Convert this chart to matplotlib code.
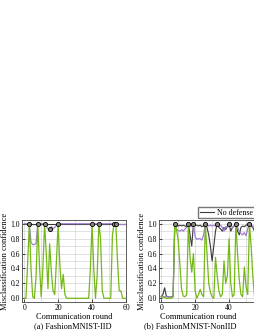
import numpy as np
import matplotlib
matplotlib.use("Agg")
import matplotlib.pyplot as plt
from matplotlib.ticker import MultipleLocator

plt.rcParams["font.family"] = ["Liberation Serif", "DejaVu Serif"]

rounds = list(range(61))

# (a) FashionMNIST-IID
iid_nodef = [1.0] * 61
iid_def = [1.0, 1.0, 1.0, 1.0, 0.75, 0.72, 0.72, 0.74, 1.0, 1.0,
           1.0, 1.0, 1.0, 0.97, 0.93, 0.93, 0.96, 0.93, 0.95, 0.98,
           1.0, 1.0, 1.0, 1.0, 1.0, 1.0, 1.0, 1.0, 1.0, 1.0,
           1.0, 1.0, 1.0, 1.0, 1.0, 1.0, 1.0, 1.0, 1.0, 1.0,
           1.0, 1.0, 1.0, 1.0, 1.0, 1.0, 1.0, 1.0, 1.0, 1.0,
           1.0, 1.0, 1.0, 1.0, 1.0, 1.0, 0.99, 0.99, 0.99, 0.99, 0.99]
iid_ours = [0.0, 0.0, 0.45, 1.0, 0.4, 0.02, 0.0, 0.3, 1.0, 0.45,
            0.02, 0.4, 1.0, 0.6, 0.13, 0.73, 0.35, 0.1, 0.05, 0.5,
            1.0, 0.45, 0.13, 0.32, 0.05, 0.0, 0.0, 0.0, 0.0, 0.0,
            0.0, 0.0, 0.0, 0.0, 0.0, 0.0, 0.0, 0.0, 0.0, 0.4,
            1.0, 0.4, 0.0, 0.3, 1.0, 0.8, 0.1, 0.0, 0.0, 0.0,
            0.0, 0.0, 0.85, 1.0, 1.0, 0.5, 0.1, 0.1, 0.0, 0.0, 0.0]
iid_attack = [3, 8, 12, 15, 20, 40, 44, 53, 54]
iid_xticks = [0, 20, 40, 60]

# (b) FashionMNIST-NonIID
non_nodef = [0.02, 0.05, 0.14, 0.03, 0.02, 0.02, 0.02, 0.02, 1.0, 0.97,
             0.97, 0.98, 0.97, 0.98, 0.97, 0.96, 1.0, 0.85, 0.7, 1.0,
             0.98, 0.98, 0.97, 0.98, 0.96, 0.97, 1.0, 0.95, 0.85, 0.7,
             0.5, 0.7, 0.9, 1.0, 0.95, 0.93, 0.9, 0.95, 0.92, 0.97,
             1.0, 0.9, 0.95, 0.97, 1.0, 0.9, 0.85, 0.95, 0.97, 0.96,
             0.98, 0.99, 1.0, 0.97, 0.95, 0.9, 0.97, 0.98, 0.97, 0.98, 0.98]
non_def = [0.02, 0.02, 0.02, 0.02, 0.02, 0.02, 0.02, 0.02, 1.0, 0.93,
           0.91, 0.9, 0.92, 0.9, 0.93, 0.95, 1.0, 0.97, 0.96, 1.0,
           0.82, 0.79, 0.8, 0.8, 0.78, 0.85, 1.0, 0.98, 0.97, 0.98,
           0.97, 0.98, 0.97, 1.0, 0.96, 0.98, 0.95, 0.9, 0.96, 0.95,
           1.0, 0.98, 0.95, 0.97, 1.0, 0.95, 0.9, 0.87, 0.85, 0.88,
           0.84, 0.93, 1.0, 0.98, 0.97, 0.96, 0.98, 0.97, 0.98, 0.97, 0.98]
non_ours = [0.02, 0.02, 0.01, 0.0, 0.0, 0.0, 0.0, 0.02, 1.0, 0.92,
            0.78, 0.45, 0.12, 0.03, 0.02, 0.05, 1.0, 0.55, 0.35, 0.6,
            0.1, 0.0, 0.05, 0.12, 0.05, 0.02, 1.0, 0.6, 0.2, 0.08,
            0.02, 0.0, 0.55, 0.3, 0.1, 0.02, 0.05, 0.5, 0.2, 0.3,
            0.8, 0.2, 0.02, 0.05, 1.0, 0.6, 0.25, 0.05, 0.02, 0.42,
            0.15, 0.05, 1.0, 0.7, 0.3, 0.02, 0.0, 0.05, 0.5, 0.1, 0.02]
non_attack = [8, 16, 19, 26, 33, 40, 44, 52]
non_xticks = [0, 20, 40]  # the 60 label falls outside the cropped frame

C_NODEF = "#3a3a3a"
C_DEF = "#a47ed6"
C_OURS = "#74b816"

fig = plt.figure(figsize=(2.55, 3.30), dpi=100)
W, H = 255.0, 330.0
AX_W = 104.0


def panel(left_px, nodef, dfn, ours, attack, xticks, caption, xlab_px, cap_px):
    ax = fig.add_axes([left_px / W, 28 / H, AX_W / W, 82 / H])
    ax.plot(rounds, nodef, color=C_NODEF, lw=0.8, zorder=2, label="No defense")
    ax.plot(rounds, dfn, color=C_DEF, lw=0.9, zorder=3)
    ax.plot(rounds, ours, color=C_OURS, lw=0.9, zorder=4)
    ax.plot(attack, [dfn[r] for r in attack], ls="none", marker="o", ms=3,
            mfc="#8a8a7a", mec="black", mew=0.6, zorder=5)
    ax.set_xlim(-1.3, 60)
    ax.set_ylim(-0.05, 1.05)
    ax.set_xticks(xticks)
    ax.xaxis.set_minor_locator(MultipleLocator(10))
    ax.yaxis.set_major_locator(MultipleLocator(0.2))
    ax.yaxis.set_minor_locator(MultipleLocator(0.1))
    ax.grid(which="both", color="#d4d4d4", lw=0.5, zorder=0)
    ax.tick_params(which="both", direction="in", labelsize=5.5, length=2,
                   width=0.5, pad=1.5)
    ax.tick_params(which="minor", length=0)
    for s in ax.spines.values():
        s.set_linewidth(0.6)
        s.set_color("#444444")
    ax.set_xlabel("Communication round", fontsize=6)
    ax.xaxis.set_label_coords((xlab_px - left_px) / AX_W, -0.13)
    ax.set_ylabel("Misclassification confidence", fontsize=6, labelpad=1)
    ax.text((cap_px - left_px) / AX_W, -0.30, caption, transform=ax.transAxes,
            ha="center", va="center", fontsize=6)
    return ax


panel(22, iid_nodef, iid_def, iid_ours, iid_attack, iid_xticks,
      "(a) FashionMNIST-IID", 74, 73)
ax2 = panel(159, non_nodef, non_def, non_ours, non_attack, non_xticks,
            "(b) FashionMNIST-NonIID", 198, 190)

h, l = ax2.get_legend_handles_labels()
fig.legend(h, l, loc="upper left", bbox_to_anchor=(198 / W, 1 - 207 / H),
           fontsize=5.8, frameon=True, fancybox=False, edgecolor="#777777",
           framealpha=1, handlelength=1.8, handletextpad=0.4,
           borderpad=0.2, borderaxespad=0)

fig.savefig("out.png", dpi=100)
